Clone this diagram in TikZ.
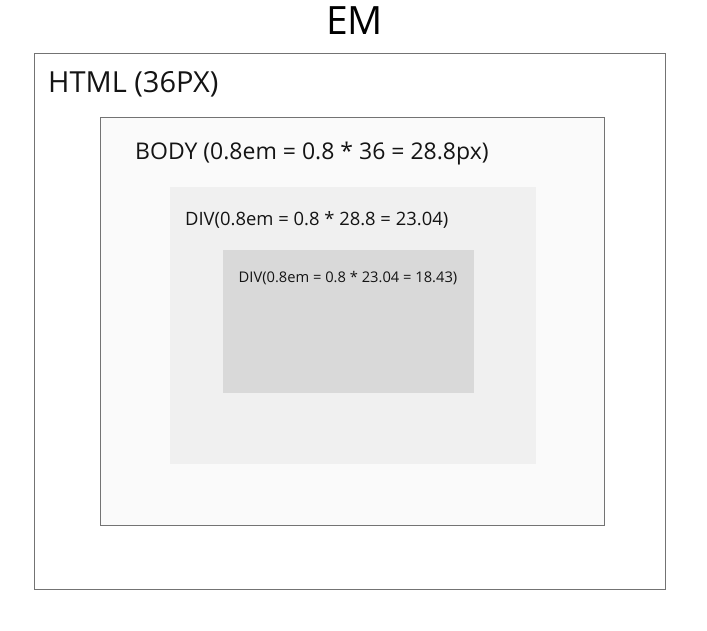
\documentclass[tikz,border=0pt]{standalone}
\usepackage{fontspec}
\setmainfont{Open Sans}
\begin{document}
\begin{tikzpicture}[x=1pt,y=-1pt,
  boxline/.style={draw=black!55,line width=1pt},
  lbl/.style={inner sep=0pt,anchor=base west,text=black!92}]
\useasboundingbox[fill=white] (0,0) rectangle (707,630);
\node[inner sep=0pt,anchor=base,font=\fontsize{39}{42}\selectfont] (title) at (354.5,34) {EM};
\draw[boxline,fill=white] (34,53) rectangle (665,589);
\node[lbl,font=\fontsize{29}{32}\selectfont] (html) at (48,92) {HTML (36PX)};
\draw[boxline,fill=black!2] (100.5,117.5) rectangle (604,525.5);
\node[lbl,font=\fontsize{23}{26}\selectfont] (body) at (135,159) {BODY (0.8em = 0.8 * 36 = 28.8px)};
\fill[black!6] (170,187) rectangle (536,463.5);
\node[lbl,font=\fontsize{18.4}{21}\selectfont] (div1) at (185,225) {DIV(0.8em = 0.8 * 28.8 = 23.04)};
\fill[black!15] (223,250) rectangle (474,393);
\node[lbl,font=\fontsize{14.7}{17}\selectfont] (div2) at (238.5,282) {DIV(0.8em = 0.8 * 23.04 = 18.43)};
\end{tikzpicture}
\end{document}
